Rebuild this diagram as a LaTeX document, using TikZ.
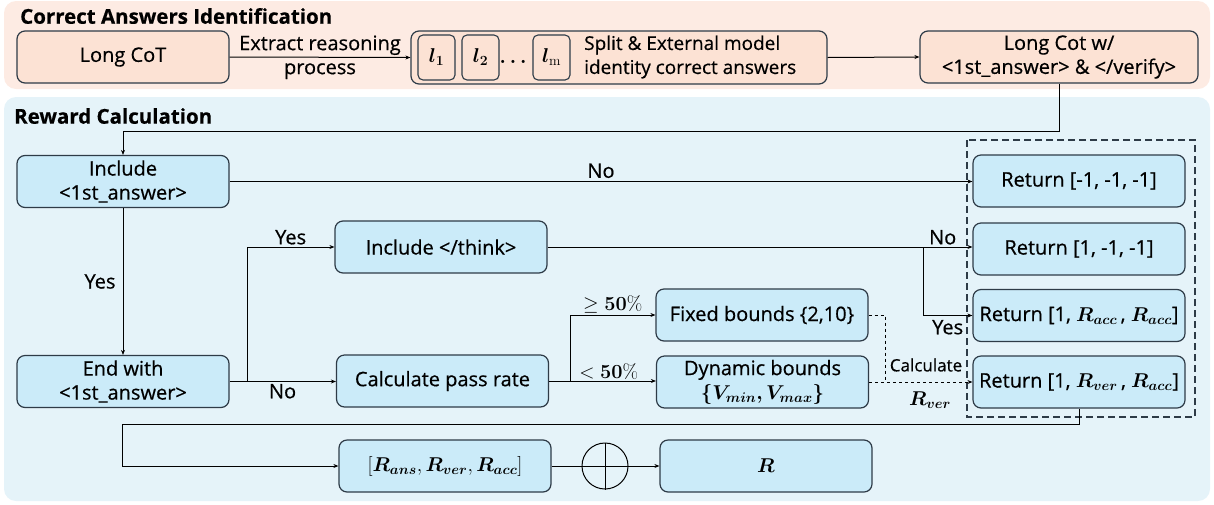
\documentclass[tikz,border=0pt]{standalone}
\usepackage{fix-cm}
\usepackage{amsmath}
\usepackage{bm}
\usepackage[no-math]{fontspec}
\setmainfont{Open Sans}[FakeBold=0.5]
\usetikzlibrary{arrows.meta}
\definecolor{peachbg}{HTML}{FDEBE3}
\definecolor{peachbox}{HTML}{FCE2D4}
\definecolor{bluebg}{HTML}{E5F3F9}
\definecolor{bluebox}{HTML}{CBEBF9}
\definecolor{edgecol}{HTML}{2E3B47}
\newcommand{\Rv}[1]{\bm{R}_{\bm{#1}}}
\begin{document}
\begin{tikzpicture}[x=1pt,y=-1pt,
  txt/.style={font=\fontsize{20}{24}\selectfont},
  bbox/.style={draw=edgecol,line width=1.2pt,rounded corners=8pt,fill=bluebox,align=center,inner sep=0pt,minimum width=212pt,minimum height=52pt,txt},
  pbox/.style={bbox,fill=peachbox},
  lbox/.style={draw=edgecol,line width=1.1pt,rounded corners=5pt,fill=peachbox,inner sep=0pt,minimum width=37pt,minimum height=45pt,txt},
  arr/.style={-{Stealth[length=5pt,width=4pt]},line width=1pt,black},
  ln/.style={line width=1pt,black},
  lab/.style={txt,inner sep=1pt},
  ttl/.style={font=\fontsize{20.5}{24}\selectfont\bfseries,anchor=west,inner sep=0pt}
  ]
\useasboundingbox (0,0) rectangle (1214,504);
% panels
\fill[peachbg,rounded corners=12pt] (4,1) rectangle (1210,89);
\fill[bluebg,rounded corners=12pt] (4,97) rectangle (1210,501);
\node[ttl] (t1) at (20,16) {Correct Answers Identification};
\node[ttl] (t2) at (14,116) {Reward Calculation};
% top row
\node[pbox] (lc) at (123,57) {Long CoT};
\node[pbox,minimum width=416pt,minimum height=53pt] (split) at (619,57.5) {};
\node[lbox] (l1) at (436.5,57.5) {$\bm{l_{1}}$};
\node[lbox] (l2) at (480.5,57.5) {$\bm{l_{2}}$};
\node[inner sep=0pt,txt] (dots) at (513,62) {$\bm{\ldots}$};
\node[lbox] (lm) at (551.5,57.5) {$\bm{l}_{\mathrm{m}}$};
\node[font=\fontsize{19}{24}\selectfont,anchor=west,align=left,inner sep=0pt] (splitt) at (584,57) {Split \& External model\\identity correct answers};
\node[pbox,minimum width=278pt] (lcw) at (1059,57) {Long Cot w/\\{<}1st\_answer{>} \& {<}/verify{>}};
\draw[arr] (lc.east) -- (split.west) node[midway,lab,align=center] {Extract reasoning\\process};
\draw[arr] (split.east) -- (lcw.west);
% main flow
\node[bbox] (inc) at (123,181.5) {Include\\{<}1st\_answer{>}};
\node[bbox] (endw) at (123,381.5) {End with\\{<}1st\_answer{>}};
\node[bbox] (think) at (441,247) {Include {<}/think{>}};
\node[bbox] (calc) at (442.5,381) {Calculate pass rate};
\node[bbox] (fixed) at (762,315) {Fixed bounds \{2,10\}};
\node[bbox] (dyn) at (762.5,382) {Dynamic bounds\\$\bm{\{V_{min},V_{max}\}}$};
\node[bbox] (r1) at (1079,181) {Return [-1, -1, -1]};
\node[bbox] (r2) at (1079,249) {Return [1, -1, -1]};
\node[bbox] (r3) at (1079,315.5) {Return [1, $\Rv{acc}\,$, $\Rv{acc}$]};
\node[bbox] (r4) at (1079,382) {Return [1, $\Rv{ver}\,$, $\Rv{acc}$]};
\draw[line width=1.1pt,edgecol,dash pattern=on 7pt off 4pt] (967,140) rectangle (1195,417);
\node[bbox] (sum) at (445,466) {$[\Rv{ans},\Rv{ver},\Rv{acc}]$};
\node[draw=black,line width=1pt,circle,minimum size=46pt,inner sep=0pt] (plus) at (605,466) {};
\node[bbox] (rr) at (766,466) {$\bm{R}$};
% connectors
\coordinate (top) at (0,131);
\draw[arr] (lcw.south) -- (lcw.south |- top) -| (inc.north);
\draw[arr] (inc.east) -- (inc.east -| r1.west) node[midway,lab,above=2pt] {No};
\draw[arr] (inc.south) -- (endw.north) node[midway,lab,left=6pt] {Yes};
\coordinate (b1) at (247,381.5);
\draw[ln] (endw.east) -- (b1);
\draw[arr] (b1) |- (think.west) node[pos=0.75,lab,above=1pt] {Yes};
\draw[arr] (b1) -- (b1 -| calc.west) node[pos=0.4,lab,below=1pt] {No};
\coordinate (b2) at (570,381);
\draw[ln] (calc.east) -- (b2);
\draw[arr] (b2) |- (fixed.west) node[pos=0.75,lab,above=0pt] {$\geq\bm{50\%}$};
\draw[arr] (b2) -- (b2 -| dyn.west) node[pos=0.45,lab,above=0pt] {$<\bm{50\%}$};
\coordinate (b3) at (885,382);
\draw[ln,dashed] (fixed.east) -| (b3);
\draw[arr,dashed] (dyn.east) -- (dyn.east -| r4.west);
\node[font=\fontsize{17}{20}\selectfont,inner sep=0pt] (calcl) at (926,365) {Calculate};
\node[txt,inner sep=0pt] (rverl) at (930,400) {$\Rv{ver}$};
\coordinate (b4) at (923,248);
\draw[arr] (think.east) -- (think.east -| r2.west) node[pos=0.93,lab,above=1pt] {No};
\draw[arr] (b4) |- (r3.west) node[pos=0.75,lab,below=3pt] {Yes};
\coordinate (c1) at (122,424);
\draw[arr] (r4.south) |- (c1) |- (sum.west);
\draw[ln] (sum.east) -- (plus.west);
\draw[ln] (plus.west) -- (plus.east) (plus.north) -- (plus.south);
\draw[arr] (plus.east) -- (rr.west);
\end{tikzpicture}
\end{document}
